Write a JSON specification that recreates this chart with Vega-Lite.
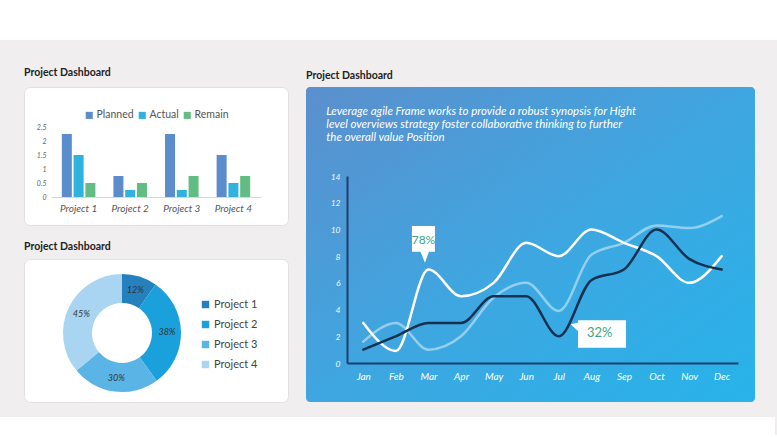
{
  "$schema": "https://vega.github.io/schema/vega-lite/v6.json",
  "padding": 0,
  "background": "#f0eeef",
  "datasets": {
    "bars": [
      {"project": "Project 1", "series": "Planned", "value": 2.25},
      {"project": "Project 1", "series": "Actual", "value": 1.5},
      {"project": "Project 1", "series": "Remain", "value": 0.5},
      {"project": "Project 2", "series": "Planned", "value": 0.75},
      {"project": "Project 2", "series": "Actual", "value": 0.25},
      {"project": "Project 2", "series": "Remain", "value": 0.5},
      {"project": "Project 3", "series": "Planned", "value": 2.25},
      {"project": "Project 3", "series": "Actual", "value": 0.25},
      {"project": "Project 3", "series": "Remain", "value": 0.75},
      {"project": "Project 4", "series": "Planned", "value": 1.5},
      {"project": "Project 4", "series": "Actual", "value": 0.5},
      {"project": "Project 4", "series": "Remain", "value": 0.75}
    ],
    "donut": [
      {"project": "Project 1", "idx": 1, "value": 12, "label": "12%"},
      {"project": "Project 2", "idx": 2, "value": 38, "label": "38%"},
      {"project": "Project 3", "idx": 3, "value": 30, "label": "30%"},
      {"project": "Project 4", "idx": 4, "value": 45, "label": "45%"}
    ],
    "lines": [
      {"series": "Light", "month": "Jan", "value": 1.6},
      {"series": "Light", "month": "Feb", "value": 3},
      {"series": "Light", "month": "Mar", "value": 1},
      {"series": "Light", "month": "Apr", "value": 2},
      {"series": "Light", "month": "May", "value": 4.9},
      {"series": "Light", "month": "Jun", "value": 6},
      {"series": "Light", "month": "Jul", "value": 3.9},
      {"series": "Light", "month": "Aug", "value": 8.1},
      {"series": "Light", "month": "Sep", "value": 9},
      {"series": "Light", "month": "Oct", "value": 10.3},
      {"series": "Light", "month": "Nov", "value": 10.1},
      {"series": "Light", "month": "Dec", "value": 11},
      {"series": "White", "month": "Jan", "value": 3},
      {"series": "White", "month": "Feb", "value": 0.9},
      {"series": "White", "month": "Mar", "value": 7},
      {"series": "White", "month": "Apr", "value": 5},
      {"series": "White", "month": "May", "value": 6},
      {"series": "White", "month": "Jun", "value": 9},
      {"series": "White", "month": "Jul", "value": 8},
      {"series": "White", "month": "Aug", "value": 10},
      {"series": "White", "month": "Sep", "value": 9},
      {"series": "White", "month": "Oct", "value": 8},
      {"series": "White", "month": "Nov", "value": 6},
      {"series": "White", "month": "Dec", "value": 8},
      {"series": "Dark", "month": "Jan", "value": 1},
      {"series": "Dark", "month": "Feb", "value": 2},
      {"series": "Dark", "month": "Mar", "value": 3},
      {"series": "Dark", "month": "Apr", "value": 3},
      {"series": "Dark", "month": "May", "value": 5},
      {"series": "Dark", "month": "Jun", "value": 5},
      {"series": "Dark", "month": "Jul", "value": 2},
      {"series": "Dark", "month": "Aug", "value": 6.2},
      {"series": "Dark", "month": "Sep", "value": 7},
      {"series": "Dark", "month": "Oct", "value": 10},
      {"series": "Dark", "month": "Nov", "value": 7.8},
      {"series": "Dark", "month": "Dec", "value": 7}
    ],
    "callouts": [
      {"month": "Mar", "value": 7, "label": "78%", "path": "M-1.65,-4.35H0.65V-1.78H0.05L-0.35,-0.68L-0.8,-1.78H-1.65Z"},
      {"month": "Jul", "value": 2, "label": "32%", "path": "M1.92,-1.6H6.72V1.14H1.92V-0.53L1.19,-1.2L1.92,-1.36Z"}
    ]
  },
  "spacing": 0,
  "resolve": {"scale": {"color": "independent", "shape": "independent"}, "legend": {"color": "independent"}},
  "vconcat": [
    {"width": 777, "height": 40, "data": {"values": []}, "mark": "text", "view": {"fill": "#ffffff", "stroke": null}},
    {
      "spacing": 26,
      "resolve": {"scale": {"color": "independent", "shape": "independent"}, "legend": {"color": "independent"}},
      "vconcat": [
        {"width": 10, "height": 1, "data": {"values": []}, "mark": "text"},
        {
          "spacing": 13,
          "resolve": {"scale": {"color": "independent", "shape": "independent"}, "legend": {"color": "independent"}},
          "vconcat": [
            {
              "spacing": 17,
              "resolve": {"scale": {"color": "independent", "shape": "independent"}, "legend": {"color": "independent"}},
              "hconcat": [
                {"width": 6, "height": 1, "data": {"values": []}, "mark": "text"},
                {
                  "spacing": 15,
                  "resolve": {"scale": {"color": "independent"}, "legend": {"color": "independent"}},
                  "vconcat": [
                    {
                      "title": {"text": "Project Dashboard", "offset": 9},
                      "width": 264,
                      "height": 138,
                      "view": {"fill": "#ffffff", "stroke": "#e2e0e1", "cornerRadius": 6},
                      "data": {"name": "bars"},
                      "mark": {"type": "bar"},
                      "encoding": {
                        "x": {
                          "field": "project", "type": "nominal", "sort": null,
                          "scale": {"range": [27, 237], "paddingInner": 0.35, "paddingOuter": 0.21},
                          "axis": {"offset": -28, "labelAngle": 0, "labelFontSize": 10, "labelColor": "#555555", "labelPadding": 6, "domainColor": "#d8d8d8", "labelFontStyle": "italic", "title": null, "ticks": false}
                        },
                        "xOffset": {"field": "series", "type": "nominal", "sort": ["Planned", "Actual", "Remain"], "scale": {"paddingInner": 0.15}},
                        "y": {
                          "field": "value", "type": "quantitative",
                          "scale": {"domain": [0, 2.5], "range": [110, 40], "nice": false},
                          "axis": {"offset": -27, "values": [0, 0.5, 1, 1.5, 2, 2.5], "format": "~g", "domain": false, "ticks": false, "grid": false, "labelFontSize": 7, "labelColor": "#666666", "labelPadding": 5, "labelFontStyle": "italic", "title": null}
                        },
                        "color": {
                          "field": "series", "type": "nominal",
                          "scale": {"domain": ["Planned", "Actual", "Remain"], "range": ["#5b8dcc", "#2fb2de", "#62bd84"]},
                          "legend": {"orient": "none", "legendX": 60, "legendY": 23, "direction": "horizontal", "title": null, "symbolType": "square", "symbolSize": 50, "labelFontSize": 10.5, "labelColor": "#555555", "columnPadding": 3, "labelOffset": 2, "padding": 0}
                        }
                      }
                    },
                    {
                      "title": {"text": "Project Dashboard", "offset": 7},
                      "width": 264,
                      "height": 143,
                      "view": {"fill": "#ffffff", "stroke": "#e2e0e1", "cornerRadius": 6},
                      "data": {"name": "donut"},
                      "encoding": {
                        "theta": {"field": "value", "type": "quantitative", "stack": true},
                        "order": {"field": "idx", "type": "quantitative"}
                      },
                      "layer": [
                        {
                          "mark": {"type": "arc", "outerRadius": 59, "innerRadius": 30, "xOffset": -34, "yOffset": 2.5},
                          "encoding": {
                            "color": {
                              "field": "project", "type": "nominal",
                              "scale": {"domain": ["Project 1", "Project 2", "Project 3", "Project 4"], "range": ["#2580be", "#1aa1dc", "#5ab5e6", "#a9d5f2"]},
                              "legend": {"orient": "none", "legendX": 176, "legendY": 40, "title": null, "symbolType": "square", "symbolSize": 55, "labelFontSize": 11, "labelColor": "#444444", "rowPadding": 8, "labelOffset": 3, "padding": 0}
                            }
                          }
                        },
                        {
                          "mark": {"type": "text", "radius": 45, "xOffset": -34, "yOffset": 2.5, "fontSize": 9, "fontStyle": "italic", "color": "#333333"},
                          "encoding": {"text": {"field": "label"}, "detail": {"field": "project"}}
                        }
                      ]
                    }
                  ]
                },
                {
                  "title": {"text": "Project Dashboard", "offset": 6},
                  "width": 449,
                  "height": 315,
                  "view": {
                    "stroke": null,
                    "cornerRadius": 4,
                    "fill": {"gradient": "linear", "x1": 0, "y1": 0, "x2": 1, "y2": 1, "stops": [{"offset": 0, "color": "#5b8fcd"}, {"offset": 0.5, "color": "#3fa6e0"}, {"offset": 1, "color": "#27b3ea"}]}
                  },
                  "resolve": {"scale": {"color": "independent"}},
                  "layer": [
                    {
                      "data": {"name": "lines"},
                      "mark": {"type": "line", "interpolate": "monotone", "strokeWidth": 2.5, "strokeCap": "round"},
                      "encoding": {
                        "x": {
                          "field": "month", "type": "ordinal",
                          "scale": {"type": "point", "domain": ["Jan", "Feb", "Mar", "Apr", "May", "Jun", "Jul", "Aug", "Sep", "Oct", "Nov", "Dec"], "range": [41, 432], "padding": 0.5},
                          "axis": {"offset": -39, "domainColor": "#1d3f6e", "domainWidth": 2, "labelColor": "#ffffff", "labelFontSize": 10, "labelPadding": 8, "labelAngle": 0, "labelFontStyle": "italic", "ticks": false, "title": null}
                        },
                        "y": {
                          "field": "value", "type": "quantitative",
                          "scale": {"domain": [0, 14], "range": [276, 89], "nice": false},
                          "axis": {"offset": -41, "values": [0, 2, 4, 6, 8, 10, 12, 14], "domainColor": "#1d3f6e", "domainWidth": 2, "labelColor": "#eef7fd", "labelFontSize": 8.5, "labelPadding": 7, "labelFontStyle": "italic", "ticks": false, "grid": false, "title": null}
                        },
                        "color": {
                          "field": "series", "type": "nominal",
                          "scale": {"domain": ["Light", "White", "Dark"], "range": ["rgba(255,255,255,0.45)", "#ffffff", "#16304f"]},
                          "legend": null
                        }
                      }
                    },
                    {
                      "data": {"values": [{"month": "Jan", "value": 14, "t": "Leverage agile Frame works to provide a robust synopsis for Hight\nlevel overviews strategy foster collaborative thinking to further\nthe overall value Position"}]},
                      "mark": {"type": "text", "align": "left", "baseline": "top", "dx": -37, "dy": -70, "fontSize": 11.5, "fontStyle": "italic", "color": "#ffffff", "lineBreak": "\n", "lineHeight": 13},
                      "encoding": {
                        "x": {"field": "month", "type": "ordinal"},
                        "y": {"field": "value", "type": "quantitative"},
                        "text": {"field": "t"}
                      }
                    },
                    {
                      "data": {"name": "callouts"},
                      "mark": {"type": "point", "filled": true, "opacity": 1, "size": 400, "color": "#ffffff", "strokeWidth": 0},
                      "encoding": {
                        "x": {"field": "month", "type": "ordinal"},
                        "y": {"field": "value", "type": "quantitative"},
                        "shape": {"field": "path", "type": "nominal", "scale": null}
                      }
                    },
                    {
                      "data": {"values": [{"month": "Mar", "value": 7, "label": "78%"}]},
                      "mark": {"type": "text", "dx": -5, "dy": -30, "fontSize": 12, "color": "#3aa582"},
                      "encoding": {
                        "x": {"field": "month", "type": "ordinal"},
                        "y": {"field": "value", "type": "quantitative"},
                        "text": {"field": "label"}
                      }
                    },
                    {
                      "data": {"values": [{"month": "Jul", "value": 2, "label": "32%"}]},
                      "mark": {"type": "text", "dx": 41, "dy": -3, "fontSize": 13, "color": "#3aa582"},
                      "encoding": {
                        "x": {"field": "month", "type": "ordinal"},
                        "y": {"field": "value", "type": "quantitative"},
                        "text": {"field": "label"}
                      }
                    }
                  ]
                }
              ]
            },
            {"width": 10, "height": 1, "data": {"values": []}, "mark": "text"}
          ]
        }
      ]
    },
    {"width": 775, "height": 18, "data": {"values": []}, "mark": "text", "view": {"fill": "#ffffff", "stroke": null}}
  ],
  "config": {
    "font": "Lato",
    "view": {"stroke": null},
    "title": {"font": "Lato", "fontSize": 10.5, "fontWeight": "bold", "color": "#222222", "anchor": "start"},
    "axis": {"labelFont": "Lato", "grid": false},
    "legend": {"labelFont": "Lato"},
    "text": {"font": "Lato"}
  }
}
